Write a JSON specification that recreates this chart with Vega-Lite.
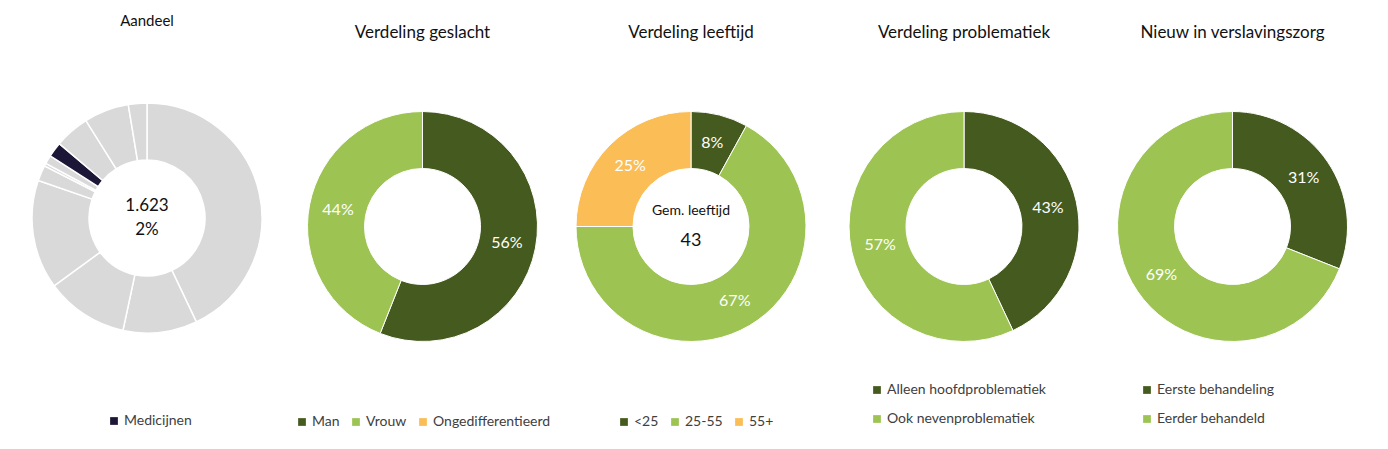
{
  "$schema": "https://vega.github.io/schema/vega-lite/v6.json",
  "padding": {"left": 13, "top": 4, "right": 0, "bottom": 0},
  "spacing": 0,
  "config": {
    "view": {"stroke": null},
    "font": "Lato",
    "title": {"font": "Lato", "fontWeight": "normal", "color": "#111111", "fontSize": 17},
    "legend": {"title": null, "symbolType": "square", "symbolSize": 60, "symbolStrokeWidth": 0, "labelFont": "Lato", "labelFontSize": 14, "labelColor": "#404040", "columnPadding": 9, "padding": 0, "labelOffset": 3, "orient": "none"}
  },
  "resolve": {"scale": {"color": "independent", "theta": "independent"}, "legend": {"color": "independent"}},
  "hconcat": [
    {
      "width": 268, "height": 428,
      "title": {"text": "Aandeel", "offset": -25, "fontSize": 15},
      "data": {"values": [
        {"i": 1, "middel": "Middel 1", "groep": "Overig", "v": 42.9},
        {"i": 2, "middel": "Middel 2", "groep": "Overig", "v": 10.4},
        {"i": 3, "middel": "Middel 3", "groep": "Overig", "v": 11.6},
        {"i": 4, "middel": "Middel 4", "groep": "Overig", "v": 15.3},
        {"i": 5, "middel": "Middel 5", "groep": "Overig", "v": 2.2},
        {"i": 6, "middel": "Middel 6", "groep": "Overig", "v": 0.4},
        {"i": 7, "middel": "Middel 7", "groep": "Overig", "v": 1.2},
        {"i": 8, "middel": "Medicijnen", "groep": "Medicijnen", "v": 2.1},
        {"i": 9, "middel": "Middel 9", "groep": "Overig", "v": 4.9},
        {"i": 10, "middel": "Middel 10", "groep": "Overig", "v": 6.3},
        {"i": 11, "middel": "Middel 11", "groep": "Overig", "v": 2.6}
      ]},
      "layer": [
        {
          "mark": {"type": "arc", "outerRadius": 115, "innerRadius": 58, "stroke": "#ffffff", "strokeWidth": 1.5},
          "encoding": {
            "theta": {"field": "v", "type": "quantitative", "stack": true},
            "order": {"field": "i", "type": "quantitative"},
            "color": {"field": "groep", "type": "nominal",
              "scale": {"domain": ["Medicijnen", "Overig"], "range": ["#1c1637", "#d9d9d9"]},
              "legend": {"values": ["Medicijnen"], "legendX": 94, "legendY": 410}}
          }
        },
        {
          "data": {"values": [{"t": "1.623|2%"}]},
          "mark": {"type": "text", "lineBreak": "|", "lineHeight": 24, "fontSize": 17, "color": "#111111", "dy": -12},
          "encoding": {"text": {"field": "t", "type": "nominal"}}
        }
      ]
    },
    {
      "width": 283, "height": 445,
      "title": {"text": "Verdeling geslacht", "offset": -38},
      "data": {"values": [
        {"i": 1, "k": "Man", "v": 0.56},
        {"i": 2, "k": "Vrouw", "v": 0.44},
        {"i": 3, "k": "Ongedifferentieerd", "v": 0}
      ]},
      "layer": [
        {
          "mark": {"type": "arc", "outerRadius": 115, "innerRadius": 58, "stroke": "#ffffff", "strokeWidth": 1},
          "encoding": {
            "theta": {"field": "v", "type": "quantitative", "stack": true},
            "order": {"field": "i", "type": "quantitative"},
            "color": {"field": "k", "type": "nominal",
              "scale": {"domain": ["Man", "Vrouw", "Ongedifferentieerd"], "range": ["#455a1e", "#9dc453", "#fbbd55"]},
              "legend": {"direction": "horizontal", "legendX": 14, "legendY": 411}}
          }
        },
        {
          "transform": [{"filter": "datum.v > 0"}],
          "mark": {"type": "text", "radius": 86, "fontSize": 16, "color": "#ffffff"},
          "encoding": {
            "theta": {"field": "v", "type": "quantitative", "stack": true},
            "order": {"field": "i", "type": "quantitative"},
            "text": {"field": "v", "type": "quantitative", "format": ".0%"}
          }
        }
      ]
    },
    {
      "width": 254, "height": 445,
      "title": {"text": "Verdeling leeftijd", "offset": -38},
      "data": {"values": [
        {"i": 1, "k": "<25", "v": 0.08},
        {"i": 2, "k": "25-55", "v": 0.67},
        {"i": 3, "k": "55+", "v": 0.25}
      ]},
      "layer": [
        {
          "mark": {"type": "arc", "outerRadius": 115, "innerRadius": 58, "stroke": "#ffffff", "strokeWidth": 1},
          "encoding": {
            "theta": {"field": "v", "type": "quantitative", "stack": true},
            "order": {"field": "i", "type": "quantitative"},
            "color": {"field": "k", "type": "nominal",
              "scale": {"domain": ["<25", "25-55", "55+"], "range": ["#455a1e", "#9dc453", "#fbbd55"]},
              "legend": {"direction": "horizontal", "legendX": 53, "legendY": 411}}
          }
        },
        {
          "mark": {"type": "text", "radius": 86, "fontSize": 16, "color": "#ffffff"},
          "encoding": {
            "theta": {"field": "v", "type": "quantitative", "stack": true},
            "order": {"field": "i", "type": "quantitative"},
            "text": {"field": "v", "type": "quantitative", "format": ".0%"}
          }
        },
        {
          "data": {"values": [{"t": "Gem. leeftijd"}]},
          "mark": {"type": "text", "fontSize": 14, "color": "#111111", "dy": -16},
          "encoding": {"text": {"field": "t", "type": "nominal"}}
        },
        {
          "data": {"values": [{"t": "43"}]},
          "mark": {"type": "text", "fontSize": 18, "color": "#111111", "dy": 14},
          "encoding": {"text": {"field": "t", "type": "nominal"}}
        }
      ]
    },
    {
      "width": 292, "height": 445,
      "title": {"text": "Verdeling problematiek", "offset": -38},
      "data": {"values": [
        {"i": 1, "k": "Alleen hoofdproblematiek", "v": 0.43},
        {"i": 2, "k": "Ook nevenproblematiek", "v": 0.57}
      ]},
      "layer": [
        {
          "mark": {"type": "arc", "outerRadius": 115, "innerRadius": 58, "stroke": "#ffffff", "strokeWidth": 1},
          "encoding": {
            "theta": {"field": "v", "type": "quantitative", "stack": true},
            "order": {"field": "i", "type": "quantitative"},
            "color": {"field": "k", "type": "nominal",
              "scale": {"domain": ["Alleen hoofdproblematiek", "Ook nevenproblematiek"], "range": ["#455a1e", "#9dc453"]},
              "legend": {"direction": "vertical", "rowPadding": 15, "legendX": 52, "legendY": 379}}
          }
        },
        {
          "mark": {"type": "text", "radius": 86, "fontSize": 16, "color": "#ffffff"},
          "encoding": {
            "theta": {"field": "v", "type": "quantitative", "stack": true},
            "order": {"field": "i", "type": "quantitative"},
            "text": {"field": "v", "type": "quantitative", "format": ".0%"}
          }
        }
      ]
    },
    {
      "width": 245, "height": 445,
      "title": {"text": "Nieuw in verslavingszorg", "offset": -38},
      "data": {"values": [
        {"i": 1, "k": "Eerste behandeling", "v": 0.31},
        {"i": 2, "k": "Eerder behandeld", "v": 0.69}
      ]},
      "layer": [
        {
          "mark": {"type": "arc", "outerRadius": 115, "innerRadius": 58, "stroke": "#ffffff", "strokeWidth": 1},
          "encoding": {
            "theta": {"field": "v", "type": "quantitative", "stack": true},
            "order": {"field": "i", "type": "quantitative"},
            "color": {"field": "k", "type": "nominal",
              "scale": {"domain": ["Eerste behandeling", "Eerder behandeld"], "range": ["#455a1e", "#9dc453"]},
              "legend": {"direction": "vertical", "rowPadding": 15, "legendX": 30, "legendY": 379}}
          }
        },
        {
          "mark": {"type": "text", "radius": 86, "fontSize": 16, "color": "#ffffff"},
          "encoding": {
            "theta": {"field": "v", "type": "quantitative", "stack": true},
            "order": {"field": "i", "type": "quantitative"},
            "text": {"field": "v", "type": "quantitative", "format": ".0%"}
          }
        }
      ]
    }
  ]
}
